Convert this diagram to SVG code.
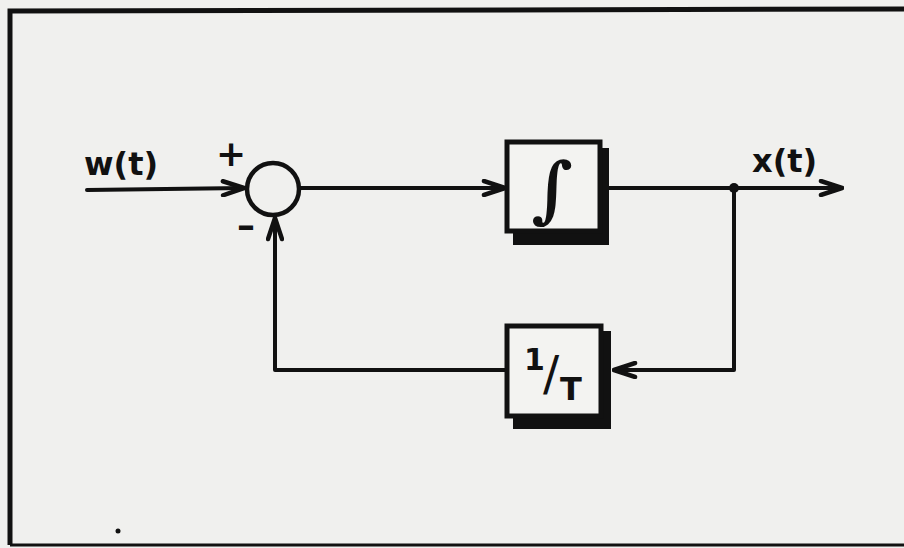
<svg xmlns="http://www.w3.org/2000/svg" width="904" height="548" viewBox="0 0 904 548">
<defs>
<style>
.ln{stroke:#111;stroke-width:4;fill:none;stroke-linecap:round;stroke-linejoin:round}
.box{fill:#f3f3f1;stroke:#111;stroke-width:5}
.sh{fill:#111}
.lbl{font-family:"DejaVu Sans","Liberation Sans",sans-serif;font-weight:bold;fill:#111}
</style>
<marker id="ah" viewBox="0 0 26 18" refX="24" refY="9" markerWidth="26" markerHeight="18" markerUnits="userSpaceOnUse" orient="auto">
<path d="M3,2 L24,9 L3,16" fill="none" stroke="#111" stroke-width="4.5" stroke-linecap="round" stroke-linejoin="round"/>
</marker>
</defs>
<rect x="0" y="0" width="904" height="548" fill="#f0f0ee"/>
<g id="frame">
<path d="M10,545 L10,11 L904,9" fill="none" stroke="#111" stroke-width="5"/>
<line x1="10" y1="545" x2="904" y2="545" stroke="#111" stroke-width="3"/>
</g>
<g id="connectors">
<line class="ln" x1="87" y1="190" x2="244" y2="188" marker-end="url(#ah)"/>
<line class="ln" x1="300" y1="188" x2="505" y2="188" marker-end="url(#ah)"/>
<line class="ln" x1="606" y1="188" x2="842" y2="188" marker-end="url(#ah)"/>
<polyline class="ln" points="734,188 734,370 614,370" marker-end="url(#ah)"/>
<polyline class="ln" points="506,370 275,370 275,218" marker-end="url(#ah)"/>
<circle cx="734" cy="188" r="5" fill="#111"/>
</g>
<g id="sum">
<circle cx="273" cy="189" r="26" fill="none" stroke="#111" stroke-width="4.5"/>
<text class="lbl" x="231" y="166" font-size="36" text-anchor="middle">+</text>
<text class="lbl" x="246" y="238" font-size="36" text-anchor="middle">–</text>
</g>
<g id="integrator">
<rect class="sh" x="513" y="148" width="96" height="97"/>
<rect class="box" x="507" y="142" width="93" height="89"/>
<text x="552" y="214" font-family="DejaVu Serif,serif" font-weight="bold" font-size="72" fill="#111" text-anchor="middle">∫</text>
</g>
<g id="gain">
<rect class="sh" x="513" y="331" width="98" height="98"/>
<rect class="box" x="507" y="326" width="94" height="90"/>
<text class="lbl" x="524" y="370" font-size="30">1<tspan x="543" y="390" font-size="48" font-weight="normal">/</tspan><tspan x="560" y="400" font-size="32">T</tspan></text>
</g>
<g id="labels">
<text class="lbl" x="84" y="175" font-size="32">w(t)</text>
<text class="lbl" x="752" y="172" font-size="32">x(t)</text>
</g>
<circle cx="118" cy="531" r="2.5" fill="#111"/>
</svg>
